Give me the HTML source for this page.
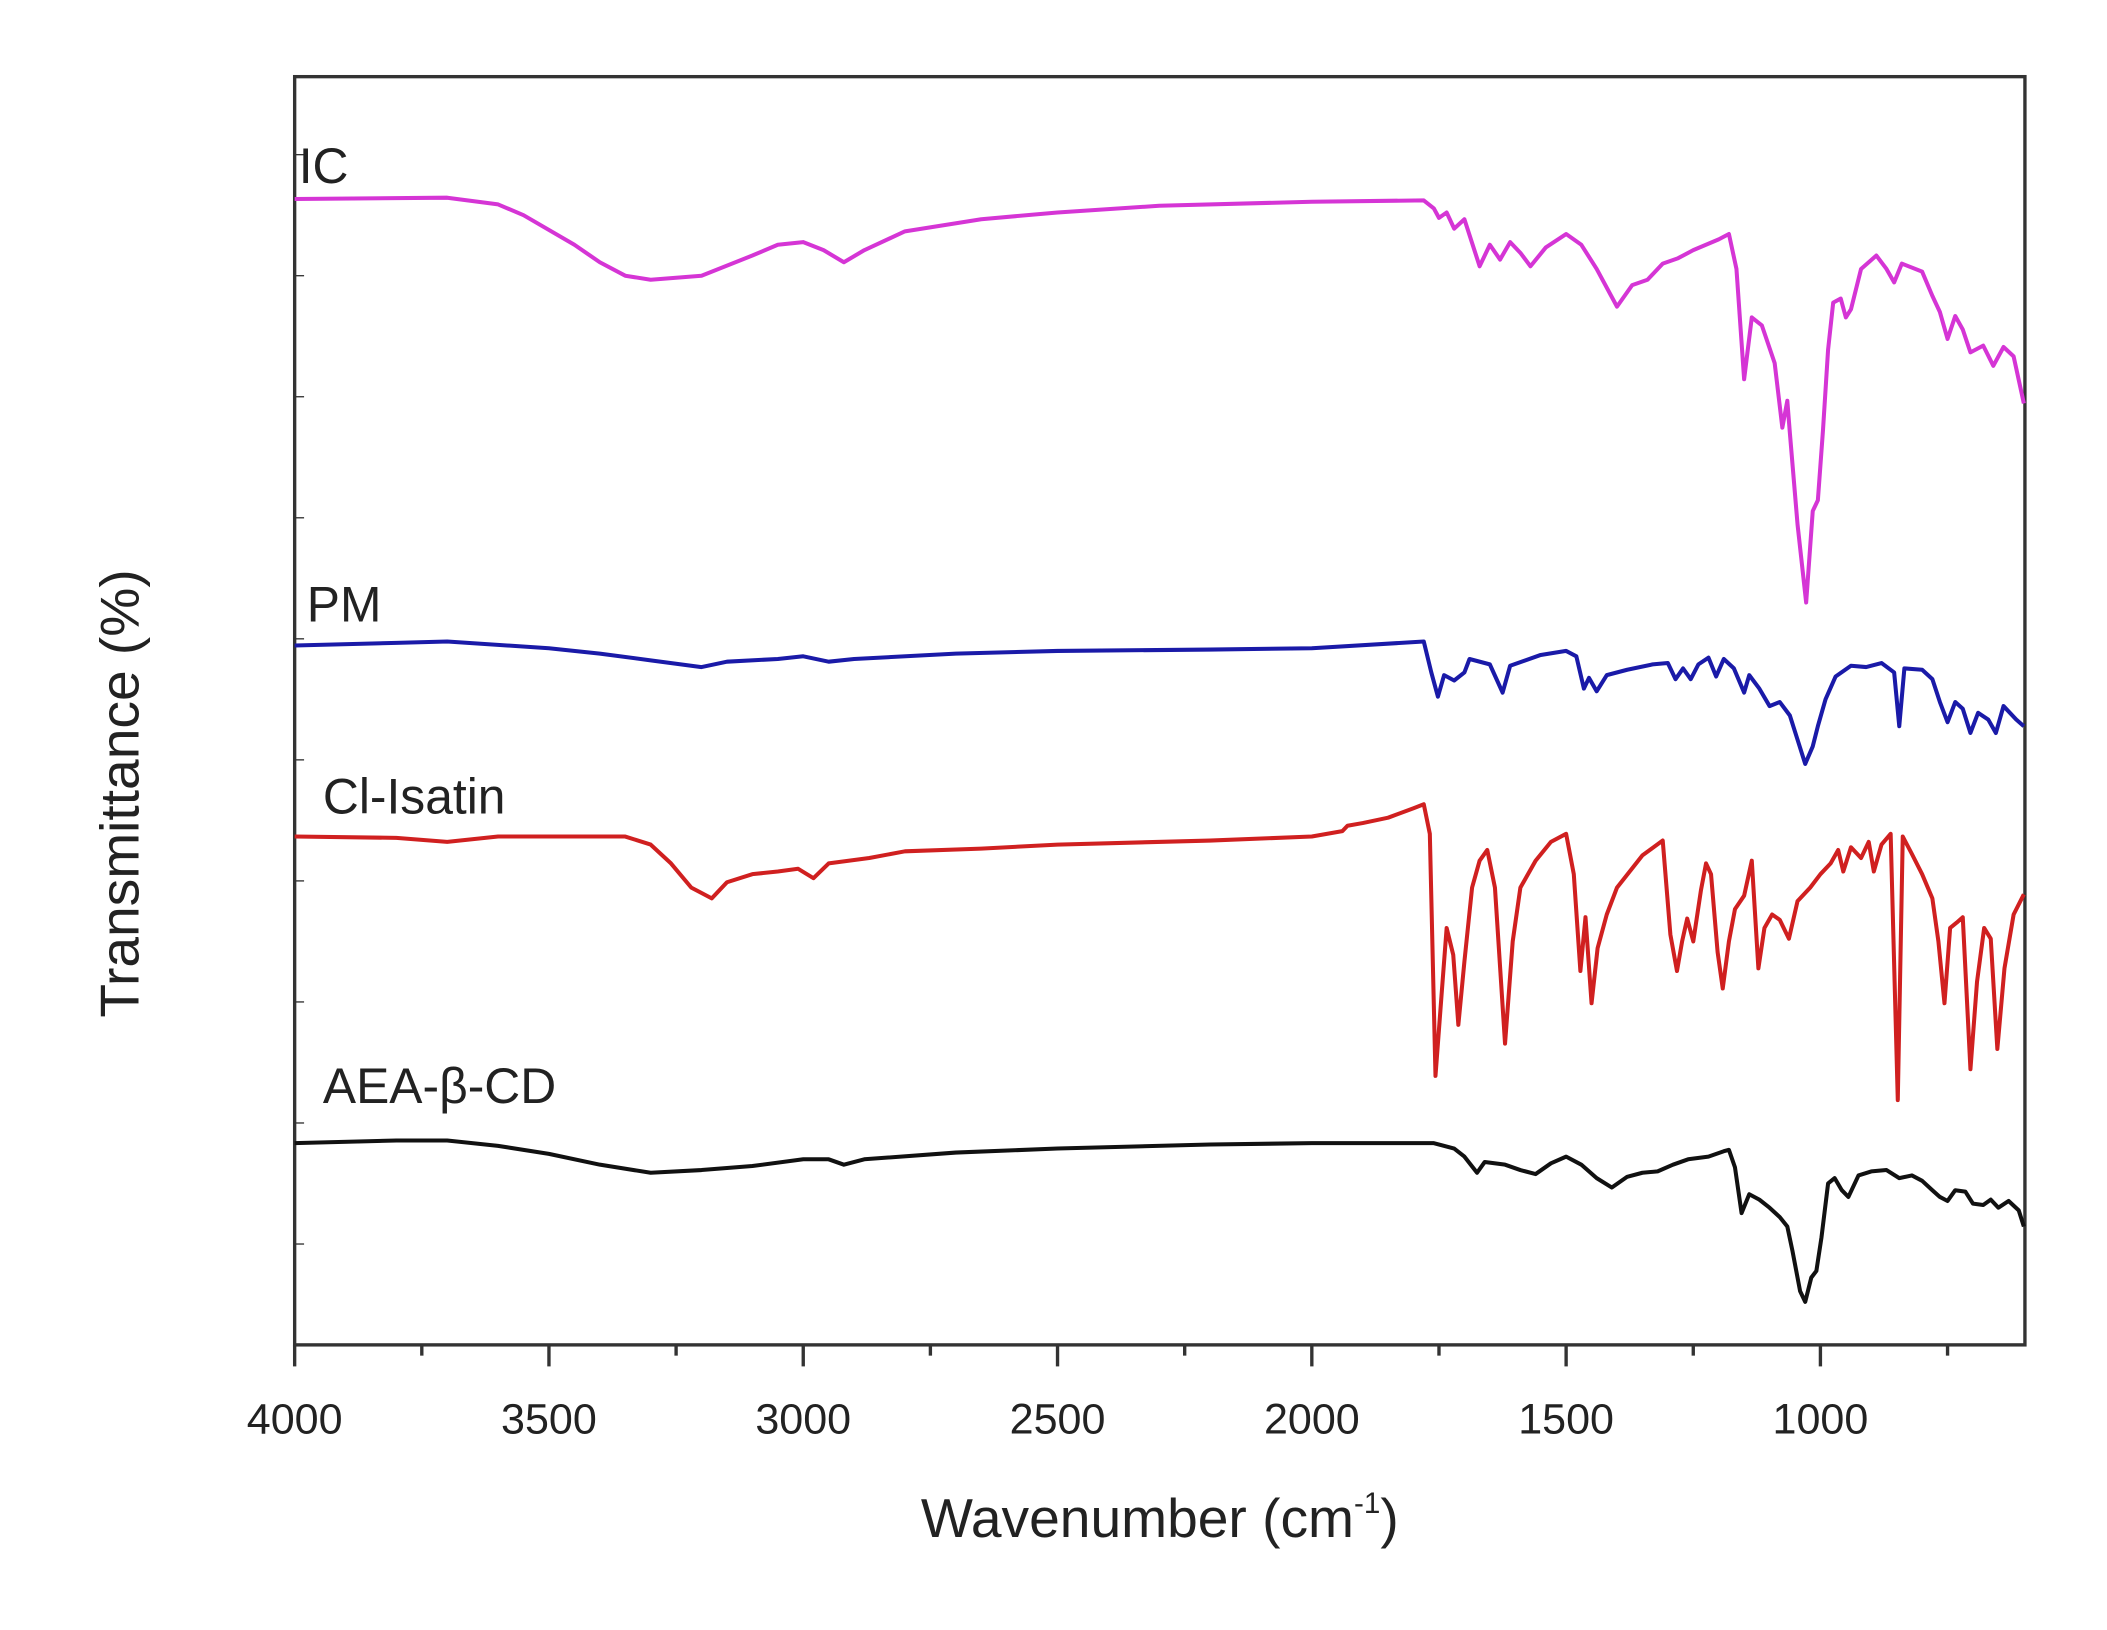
<!DOCTYPE html>
<html><head><meta charset="utf-8"><style>
html,body{margin:0;padding:0;background:#fff;}
svg{display:block;}
text{font-family:"Liberation Sans",sans-serif;fill:#222;}
</style></head><body>
<svg id="s" width="2107" height="1630" viewBox="0 0 1566 1212" preserveAspectRatio="none" xmlns="http://www.w3.org/2000/svg">
<rect x="0" y="0" width="1566" height="1212" fill="#fff"/>
<rect x="219" y="57" width="1286" height="943" fill="none" stroke="#333" stroke-width="2.5"/>
<g id="ticks" stroke="#333" stroke-width="2.5"></g>
<g font-size="32" text-anchor="middle">
<text x="219" y="1066">4000</text>
<text x="408" y="1066">3500</text>
<text x="597" y="1066">3000</text>
<text x="786" y="1066">2500</text>
<text x="975" y="1066">2000</text>
<text x="1164" y="1066">1500</text>
<text x="1353" y="1066">1000</text>
</g>
<text x="862" y="1143" font-size="41" text-anchor="middle">Wavenumber (cm<tspan font-size="22" dy="-18">-1</tspan><tspan dy="18">)</tspan></text>
<text transform="translate(103,590) rotate(-90)" font-size="41" text-anchor="middle">Transmittance (%)</text>
<g font-size="37">
<text x="222" y="136">IC</text>
<text x="228" y="462">PM</text>
<text x="240" y="605">Cl-Isatin</text>
<text x="240" y="820">AEA-β-CD</text>
</g>
<g id="curves" fill="none" stroke-width="3" stroke-linejoin="round"></g>
</svg>
<script>
var X=function(w){return 219+(4000-w)*0.378;};
var ns="http://www.w3.org/2000/svg";
var t=document.getElementById("ticks");
for(var w=4000;w>=600;w-=250){var l=document.createElementNS(ns,"line");var x=X(w);l.setAttribute("x1",x);l.setAttribute("x2",x);l.setAttribute("y1",1000);l.setAttribute("y2",(w%500==0)?1016:1008);t.appendChild(l);}
for(var y=115;y<1000;y+=90){var l=document.createElementNS(ns,"line");l.setAttribute("x1",219);l.setAttribute("x2",226);l.setAttribute("y1",y);l.setAttribute("y2",y);l.setAttribute("stroke-width","1");t.appendChild(l);}
var D={
"#d535d5":[4000,148,3700,147,3600,152,3550,160,3450,182,3400,195,3350,205,3300,208,3200,205,3100,190,3050,182,3000,180,2960,186,2920,195,2880,186,2800,172,2650,163,2500,158,2300,153,2000,150,1780,149,1760,155,1750,162,1735,158,1720,170,1700,163,1670,198,1650,182,1630,193,1610,180,1590,188,1570,198,1540,184,1500,174,1470,182,1440,200,1400,228,1370,212,1340,208,1310,196,1280,192,1250,186,1200,178,1180,174,1165,200,1150,282,1135,236,1115,242,1090,270,1075,318,1065,298,1060,322,1045,390,1028,448,1015,380,1005,372,995,320,985,260,975,225,960,222,950,236,940,230,920,200,890,190,870,200,855,210,840,196,800,202,780,220,765,232,750,252,735,235,720,245,705,262,680,257,660,272,640,258,620,265,600,300],
"#1a1aa8":[4000,480,3800,478,3700,477,3500,482,3400,486,3300,491,3200,496,3150,492,3050,490,3000,488,2950,492,2900,490,2700,486,2500,484,2200,483,2000,482,1780,477,1765,500,1752,518,1740,502,1720,506,1700,500,1690,490,1650,494,1625,515,1610,495,1550,487,1500,484,1480,488,1465,512,1455,504,1440,514,1420,502,1380,498,1330,494,1300,493,1285,505,1270,497,1255,505,1240,494,1220,489,1205,503,1190,490,1170,497,1150,515,1140,502,1120,512,1100,525,1080,522,1060,532,1045,550,1030,568,1015,555,1005,540,990,520,970,503,940,495,910,496,880,493,855,500,845,540,835,497,800,498,780,505,765,522,750,537,735,522,720,527,705,545,690,530,670,535,655,545,640,525,615,535,600,540],
"#d02020":[4000,622,3800,623,3700,626,3600,622,3350,622,3300,628,3260,642,3220,660,3180,668,3150,656,3100,650,3050,648,3010,646,2980,653,2950,642,2870,638,2800,633,2650,631,2500,628,2200,625,2000,622,1940,618,1930,614,1900,612,1850,608,1800,601,1780,598,1768,620,1757,800,1745,740,1735,690,1722,710,1712,762,1700,715,1685,660,1670,640,1655,632,1640,660,1620,776,1605,700,1590,660,1560,640,1530,626,1500,620,1485,650,1472,722,1462,682,1450,746,1438,705,1420,680,1400,660,1350,636,1310,625,1295,695,1282,722,1272,700,1262,683,1250,700,1235,662,1225,642,1215,650,1202,708,1192,735,1180,700,1168,676,1150,666,1135,640,1122,720,1110,690,1095,680,1080,684,1062,698,1045,670,1020,660,1000,650,980,642,965,632,955,648,940,630,920,638,905,626,895,648,880,628,862,620,848,818,838,622,820,635,800,650,780,668,768,700,756,746,745,690,732,686,720,682,705,795,692,730,678,690,665,698,652,780,638,720,620,680,600,665],
"#111":[4000,850,3800,848,3700,848,3600,852,3500,858,3400,866,3300,872,3200,870,3100,867,3000,862,2950,862,2920,866,2880,862,2700,857,2500,854,2200,851,2000,850,1760,850,1720,854,1700,860,1675,872,1660,864,1620,866,1590,870,1560,873,1530,865,1500,860,1470,866,1440,876,1410,883,1380,875,1350,872,1320,871,1290,866,1260,862,1220,860,1190,856,1180,855,1168,868,1155,902,1140,888,1120,892,1100,898,1080,905,1065,912,1055,930,1040,960,1030,968,1018,950,1008,945,998,920,985,880,972,876,958,885,945,890,925,874,900,871,870,870,845,876,820,874,800,878,780,885,765,890,750,893,735,885,715,886,700,895,680,896,665,892,650,898,630,893,610,900,600,912]
};
var g=document.getElementById("curves");
for(var c in D){var a=D[c],p=[];for(var i=0;i<a.length;i+=2)p.push(X(a[i]).toFixed(1)+","+a[i+1]);var pl=document.createElementNS(ns,"polyline");pl.setAttribute("points",p.join(" "));pl.setAttribute("stroke",c);g.appendChild(pl);}
</script>
</body></html>
